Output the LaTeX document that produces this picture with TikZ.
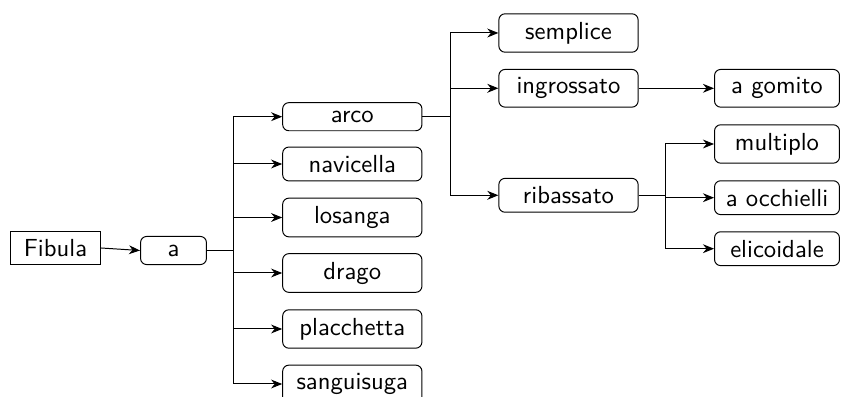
\documentclass[tikz,border=0pt]{standalone}
\usepackage{tikz}
\usetikzlibrary{arrows.meta,positioning}
\tikzset{
  root/.style ={draw, sharp corners, font=\sffamily, minimum width=36.5pt},
  part/.style ={draw, rounded corners=2.5pt, font=\sffamily, minimum width=26.7pt},
  form/.style ={draw, rounded corners=2.5pt, font=\sffamily, minimum width=56.4pt},
  sub/.style  ={draw, rounded corners=2.5pt, font=\sffamily, minimum width=50.6pt},
  arrow/.style={-{Stealth[length=4.5pt,width=3.6pt]}, thin},
}

\begin{document}
\begin{tikzpicture}[x=0.405pt, y=-0.405pt]
        \useasboundingbox (0,0) rectangle (843,397);
        % root and the first split
        \node[root] (fib) at (55.5,248){Fibula};
        \node[part] (a)   at (173.5,250.5){a};
        \draw[arrow] (fib.east) -- (a.west);
        % kinds of bow
        \node[form] (arco)  at (352.3,116.7){arco};
        \node[form] (nav)   at (352.3,164){navicella};
        \node[form] (los)   at (352.3,217.5){losanga};
        \node[form] (drago) at (352.3,273){drago};
        \node[form] (plac)  at (352.3,329){placchetta};
        \node[form] (sang)  at (352.3,384){sanguisuga};
        \coordinate (ja) at (233,0);
        \foreach \n in {arco,nav,los,drago,plac,sang}
          \draw[arrow] (a.east) -- (a.east -| ja) |- (\n.west);
        % arco
        \node[form] (sem) at (568.5,33){semplice};
        \node[form] (ing) at (568.5,88.3){ingrossato};
        \node[form] (rib) at (568.5,195.3){ribassato};
        \coordinate (jb) at (450,0);
        \foreach \n in {sem,ing,rib}
          \draw[arrow] (arco.east) -- (arco.east -| jb) |- (\n.west);
        % ingrossato
        \node[sub] (gom) at (777,88.3){a gomito};
        \draw[arrow] (ing.east) -- (gom.west);
        % ribassato
        \node[sub] (mul) at (777,144){multiplo};
        \node[sub] (occ) at (777,197.7){a occhielli};
        \node[sub] (eli) at (777,248.7){elicoidale};
        \coordinate (jc) at (665,0);
        \foreach \n in {mul,occ,eli}
          \draw[arrow] (rib.east) -- (rib.east -| jc) |- (\n.west);
      \end{tikzpicture}
\end{document}
